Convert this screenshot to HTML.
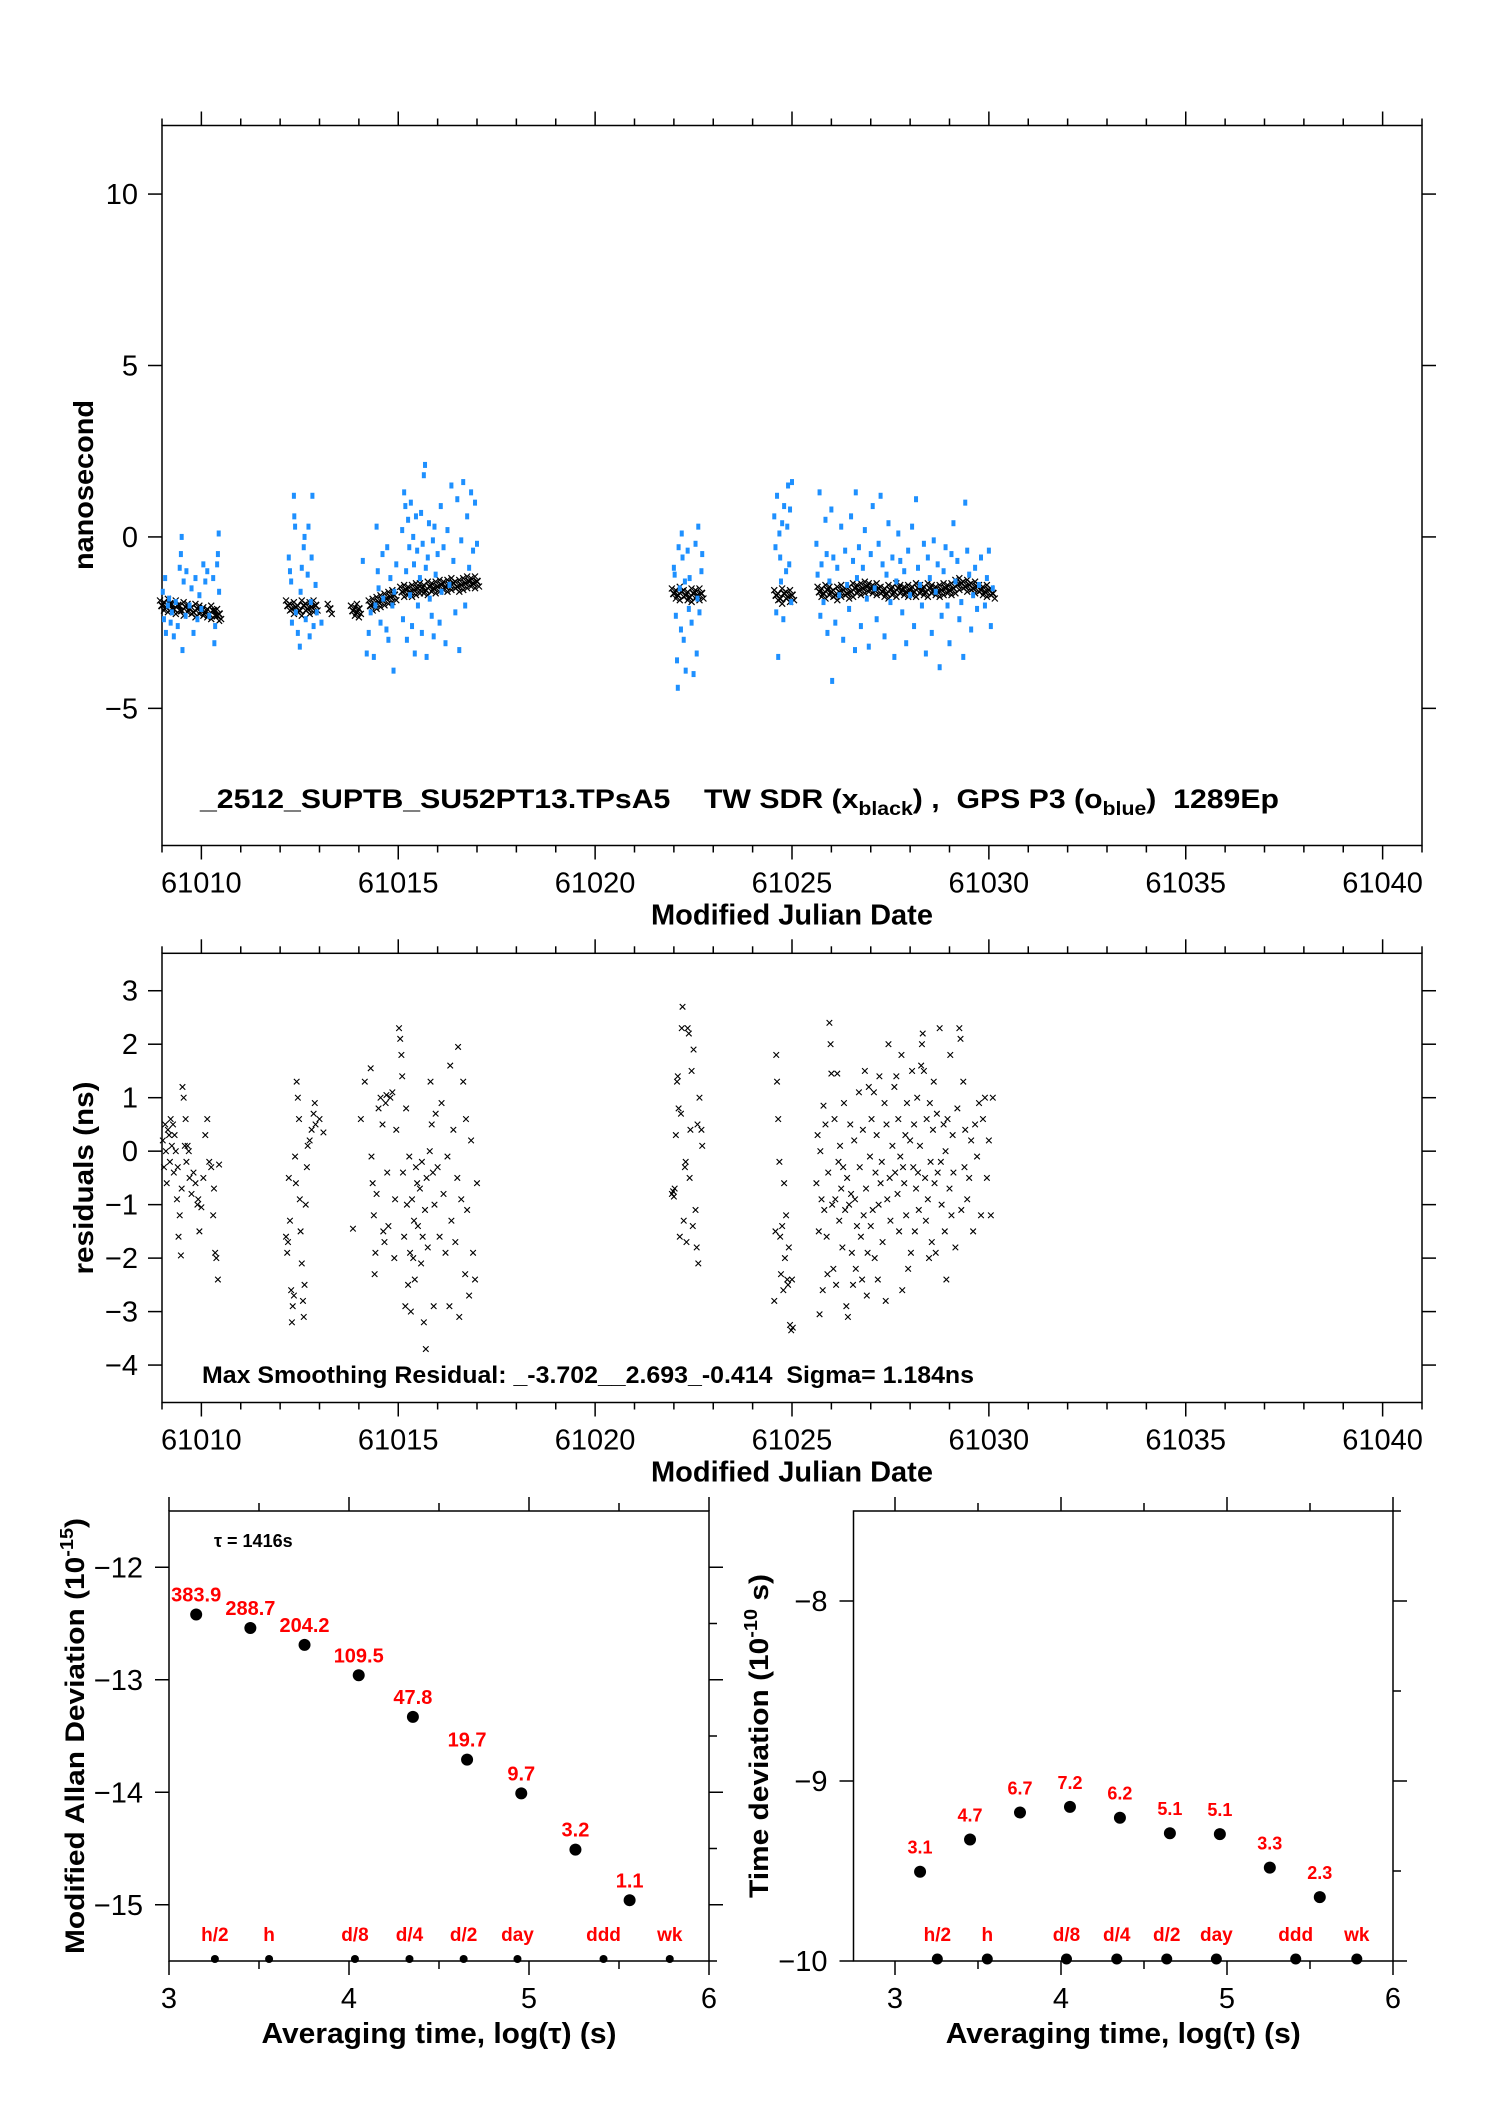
<!DOCTYPE html>
<html><head><meta charset="utf-8"><style>
html,body{margin:0;padding:0;background:#fff;}
svg{display:block;font-family:"Liberation Sans",Arial,sans-serif;}
</style></head><body>
<svg id="fig" width="1488" height="2105" viewBox="0 0 1488 2105" xmlns="http://www.w3.org/2000/svg">
<rect x="0" y="0" width="1488" height="2105" fill="#fff"/>
<g id="root"></g>
</svg>
<script>
// ---- Top plot data ----
const twSdrPoints = [
[61009.0,-2.0],[61009.1,-2.05],[61009.2,-1.95],[61009.3,-2.1],[61009.4,-2.0],[61009.5,-2.15],[61009.6,-2.05],[61009.7,-2.1],[61009.8,-2.2],[61009.9,-2.1],[61010.0,-2.15],[61010.1,-2.2],[61010.2,-2.25],[61010.3,-2.15],[61010.4,-2.3],[61010.45,-2.25],
[61012.2,-2.0],[61012.3,-2.1],[61012.4,-2.05],[61012.5,-2.15],[61012.6,-2.0],[61012.7,-2.1],[61012.8,-2.05],[61012.9,-2.0],
[61013.26,-2.1],[61013.85,-2.15],[61013.95,-2.2],[61014.0,-2.1],
[61014.3,-2.0],[61014.4,-1.95],[61014.5,-1.9],[61014.6,-1.85],[61014.7,-1.8],[61014.8,-1.75],[61014.9,-1.7],
[61015.1,-1.6],[61015.2,-1.55],[61015.3,-1.6],[61015.4,-1.55],[61015.5,-1.5],[61015.6,-1.5],[61015.7,-1.55],[61015.8,-1.45],[61015.9,-1.5],[61016.0,-1.45],[61016.1,-1.4],[61016.2,-1.45],[61016.3,-1.4],[61016.4,-1.35],[61016.5,-1.45],[61016.6,-1.4],[61016.7,-1.35],[61016.8,-1.3],[61016.9,-1.35],[61017.0,-1.3],
[61022.0,-1.65],[61022.1,-1.7],[61022.2,-1.6],[61022.3,-1.7],[61022.4,-1.75],[61022.5,-1.65],[61022.6,-1.7],[61022.7,-1.65],
[61024.6,-1.7],[61024.7,-1.8],[61024.8,-1.65],[61024.9,-1.75],[61025.0,-1.7],
[61025.7,-1.6],[61025.8,-1.65],[61025.9,-1.55],[61026.0,-1.6],[61026.1,-1.7],[61026.2,-1.6],[61026.3,-1.55],[61026.4,-1.65],[61026.5,-1.6],[61026.6,-1.5],[61026.7,-1.55],[61026.8,-1.5],[61026.9,-1.45],[61027.0,-1.5],[61027.1,-1.55],[61027.2,-1.5],[61027.3,-1.6],[61027.4,-1.65],[61027.5,-1.55],[61027.6,-1.6],[61027.7,-1.5],[61027.8,-1.55],[61027.9,-1.6],[61028.0,-1.55],[61028.1,-1.6],[61028.2,-1.5],[61028.3,-1.55],[61028.4,-1.6],[61028.5,-1.5],[61028.6,-1.55],[61028.7,-1.6],[61028.8,-1.55],[61028.9,-1.5],[61029.0,-1.55],[61029.1,-1.5],[61029.2,-1.4],[61029.3,-1.35],[61029.4,-1.45],[61029.5,-1.4],[61029.6,-1.5],[61029.7,-1.45],[61029.8,-1.55],[61029.9,-1.6],[61030.0,-1.55],[61030.1,-1.65]
];
const gpsP3Points = [
[61009.02,-1.6],[61009.05,-2.4],[61009.08,-1.2],[61009.1,-2.8],[61009.15,-2.0],[61009.18,-1.8],[61009.22,-2.5],[61009.25,-2.2],[61009.3,-2.9],[61009.35,-1.9],[61009.4,-2.6],[61009.45,-0.9],[61009.48,-0.5],[61009.5,0.0],[61009.52,-3.3],[61009.55,-1.3],[61009.6,-2.3],[61009.62,-1.0],[61009.7,-2.0],[61009.75,-1.5],[61009.8,-2.8],[61009.85,-1.2],[61009.9,-2.4],[61009.95,-1.7],[61010.0,-2.1],[61010.05,-0.8],[61010.1,-1.3],[61010.15,-1.0],[61010.2,-2.3],[61010.3,-1.2],[61010.33,-3.1],[61010.35,-2.6],[61010.4,-0.8],[61010.42,-0.5],[61010.44,0.1],[61010.45,-1.6],
[61012.22,-0.6],[61012.25,-1.0],[61012.28,-1.3],[61012.3,-2.5],[61012.35,1.2],[61012.36,0.6],[61012.38,0.3],[61012.4,-2.2],[61012.45,-2.8],[61012.5,-3.2],[61012.52,-1.6],[61012.55,-0.9],[61012.6,-0.3],[61012.62,0.0],[61012.65,-2.4],[61012.7,-1.1],[61012.72,0.3],[61012.75,-2.9],[61012.78,-1.9],[61012.8,-0.6],[61012.82,1.2],[61012.85,-2.6],[61012.9,-1.4],[61012.93,-2.2],[61013.05,-2.5],
[61014.1,-0.7],[61014.2,-3.4],[61014.25,-2.8],[61014.3,-2.2],[61014.38,-3.5],[61014.42,-2.0],[61014.45,0.3],[61014.48,-1.0],[61014.5,-1.5],[61014.55,-2.5],[61014.6,-0.5],[61014.62,-1.8],[61014.7,-2.7],[61014.72,-0.3],[61014.75,-3.0],[61014.8,-1.2],[61014.85,-2.0],[61014.88,-3.9],[61014.9,-1.6],[61014.95,-0.8],
[61015.1,0.2],[61015.12,-2.4],[61015.15,1.3],[61015.18,0.9],[61015.2,-1.0],[61015.22,-3.0],[61015.25,0.5],[61015.28,-0.3],[61015.3,-1.7],[61015.32,1.0],[61015.35,-2.6],[61015.38,0.0],[61015.4,-0.8],[61015.42,-3.4],[61015.45,0.6],[61015.48,-0.4],[61015.5,-2.0],[61015.55,-1.2],[61015.58,0.7],[61015.6,-2.8],[61015.62,-0.2],[61015.65,1.8],[61015.68,2.1],[61015.7,-0.9],[61015.72,-3.5],[61015.75,-0.6],[61015.78,0.4],[61015.8,-1.8],[61015.85,-2.3],[61015.88,-0.1],[61015.9,-2.9],[61015.92,0.3],[61015.95,-1.1],[61016.0,-0.5],[61016.05,-2.5],[61016.08,0.9],[61016.1,-1.6],[61016.15,-0.3],[61016.2,-3.1],[61016.25,0.2],[61016.3,-1.4],[61016.35,1.5],[61016.4,-0.7],[61016.45,-2.2],[61016.5,1.1],[61016.55,-3.3],[61016.6,-0.1],[61016.65,1.6],[61016.7,-2.0],[61016.75,0.6],[61016.8,-0.9],[61016.85,1.3],[61016.9,-0.4],[61016.95,1.0],[61017.0,-0.2],
[61022.0,-0.9],[61022.02,-1.1],[61022.05,-2.3],[61022.08,-3.6],[61022.1,-4.4],[61022.12,-0.3],[61022.15,-1.5],[61022.18,-2.7],[61022.2,0.1],[61022.22,-0.6],[61022.25,-3.0],[61022.28,-1.3],[61022.3,-3.9],[61022.35,-0.4],[61022.38,-2.1],[61022.4,-1.2],[61022.45,-2.5],[61022.5,-4.0],[61022.55,-0.2],[61022.58,-3.4],[61022.6,-1.8],[61022.62,0.3],[61022.65,-2.2],[61022.7,-1.0],[61022.72,-0.5],
[61024.55,0.6],[61024.58,-0.3],[61024.6,-2.2],[61024.62,1.2],[61024.65,-3.5],[61024.68,0.1],[61024.7,-0.6],[61024.72,-1.3],[61024.75,0.4],[61024.78,-2.4],[61024.8,0.9],[61024.85,-1.0],[61024.88,0.3],[61024.9,1.5],[61024.93,-0.8],[61024.95,0.8],[61024.98,-1.9],[61025.0,1.6],
[61025.62,-0.2],[61025.65,-1.1],[61025.7,1.3],[61025.72,-2.3],[61025.75,-0.8],[61025.8,-1.9],[61025.85,0.5],[61025.88,-0.5],[61025.9,-2.8],[61025.95,-1.3],[61026.0,0.8],[61026.02,-4.2],[61026.05,-0.6],[61026.1,-2.5],[61026.15,-0.9],[61026.2,-1.7],[61026.25,0.3],[61026.3,-3.0],[61026.35,-0.4],[61026.4,-1.4],[61026.45,-2.1],[61026.5,0.6],[61026.55,-0.7],[61026.6,-3.3],[61026.62,1.3],[61026.65,-1.2],[61026.7,-0.3],[61026.75,-2.6],[61026.8,-0.9],[61026.85,0.2],[61026.9,-1.8],[61026.95,-3.2],[61027.0,-0.5],[61027.05,0.9],[61027.1,-1.5],[61027.15,-2.4],[61027.2,-0.2],[61027.25,1.2],[61027.3,-0.8],[61027.35,-2.9],[61027.4,-1.1],[61027.45,0.4],[61027.5,-1.9],[61027.55,-0.6],[61027.6,-3.5],[61027.65,-1.3],[61027.7,0.1],[61027.75,-0.7],[61027.8,-2.2],[61027.85,-1.0],[61027.9,-3.1],[61027.95,-0.4],[61028.0,-1.7],[61028.05,0.3],[61028.1,-2.6],[61028.15,1.1],[61028.2,-0.9],[61028.25,-1.4],[61028.3,-2.0],[61028.35,-0.2],[61028.4,-3.4],[61028.45,-0.6],[61028.5,-1.2],[61028.55,-2.8],[61028.6,-0.1],[61028.65,-1.6],[61028.7,-0.8],[61028.75,-3.8],[61028.8,-2.3],[61028.85,-1.0],[61028.9,-0.3],[61028.95,-2.0],[61029.0,-3.1],[61029.05,-0.5],[61029.1,0.4],[61029.15,-1.3],[61029.2,-0.7],[61029.25,-2.4],[61029.3,-1.9],[61029.35,-3.5],[61029.4,1.0],[61029.45,-0.4],[61029.5,-1.1],[61029.55,-2.7],[61029.6,-1.7],[61029.65,-0.9],[61029.7,-2.1],[61029.75,-1.4],[61029.8,-0.6],[61029.9,-2.0],[61029.95,-1.2],[61030.0,-0.4],[61030.05,-2.6],[61030.1,-1.5]
];
// ---- Residual data ----
const residualPoints = [
[61009.02,0.2],[61009.05,-0.3],[61009.08,0.5],[61009.1,0.0],[61009.12,-0.6],[61009.15,0.4],[61009.18,0.3],[61009.2,-0.2],[61009.22,0.6],[61009.25,0.1],[61009.28,0.5],[61009.3,-0.4],[61009.32,0.3],[61009.35,0.0],[61009.38,-0.9],[61009.4,-0.3],[61009.42,-1.6],[61009.45,-1.2],[61009.48,-1.95],[61009.5,-0.7],[61009.52,1.2],[61009.55,1.0],[61009.58,0.1],[61009.6,0.6],[61009.62,-0.2],[61009.65,0.1],[61009.68,0.0],[61009.7,-0.5],[61009.75,-0.8],[61009.8,-0.4],[61009.85,-0.6],[61009.9,-1.0],[61009.92,-0.9],[61009.95,-1.5],[61010.0,-1.05],[61010.05,-0.5],[61010.1,0.3],[61010.15,0.6],[61010.2,-0.2],[61010.25,-0.3],[61010.3,-1.2],[61010.32,-0.7],[61010.35,-1.9],[61010.38,-2.0],[61010.42,-2.4],[61010.45,-0.25],
[61012.15,-1.6],[61012.18,-1.9],[61012.2,-1.7],[61012.22,-0.5],[61012.25,-1.3],[61012.28,-2.6],[61012.3,-3.2],[61012.32,-2.9],[61012.35,-2.7],[61012.38,-0.1],[61012.4,-0.6],[61012.42,1.3],[61012.45,1.0],[61012.48,0.6],[61012.5,-0.9],[61012.52,-1.5],[61012.55,-2.1],[61012.58,-2.8],[61012.6,-3.1],[61012.62,-2.5],[61012.65,-1.0],[61012.68,-0.3],[61012.7,0.1],[61012.75,0.2],[61012.8,0.4],[61012.85,0.7],[61012.88,0.9],[61012.9,0.5],[61013.0,0.6],[61013.1,0.35],
[61013.85,-1.45],[61014.05,0.6],[61014.15,1.3],[61014.3,1.55],[61014.32,-0.1],[61014.35,-0.6],[61014.38,-1.2],[61014.4,-2.3],[61014.42,-1.9],[61014.45,-0.8],[61014.5,0.8],[61014.55,1.0],[61014.6,0.5],[61014.62,-1.5],[61014.65,-1.7],[61014.68,0.9],[61014.7,1.05],[61014.72,-0.4],[61014.75,-1.4],[61014.8,1.0],[61014.85,1.1],[61014.9,-2.0],[61014.92,-0.9],[61014.95,0.4],
[61015.02,2.3],[61015.05,2.1],[61015.08,1.8],[61015.1,1.4],[61015.12,-0.4],[61015.15,-1.6],[61015.18,-2.9],[61015.2,0.8],[61015.22,-1.0],[61015.25,-2.5],[61015.28,-0.1],[61015.3,-1.9],[61015.32,-3.0],[61015.35,-0.9],[61015.38,-2.0],[61015.4,-1.3],[61015.42,-2.4],[61015.45,-0.3],[61015.48,-0.6],[61015.5,-1.4],[61015.55,-0.7],[61015.58,-2.1],[61015.6,-0.2],[61015.62,-1.6],[61015.65,-3.2],[61015.68,-1.1],[61015.7,-3.7],[61015.72,-0.5],[61015.75,-1.8],[61015.8,0.0],[61015.82,1.3],[61015.85,0.5],[61015.88,-0.4],[61015.9,-2.9],[61015.92,-1.0],[61015.95,0.7],[61016.0,-0.3],[61016.05,-1.6],[61016.1,0.9],[61016.15,-0.8],[61016.2,-1.9],[61016.25,-0.1],[61016.3,-2.9],[61016.32,1.6],[61016.35,-1.3],[61016.4,0.4],[61016.45,-1.7],[61016.5,-0.5],[61016.52,1.95],[61016.55,-3.1],[61016.6,-0.9],[61016.65,1.3],[61016.7,-2.3],[61016.72,0.6],[61016.75,-1.1],[61016.8,-2.7],[61016.85,0.2],[61016.9,-1.9],[61016.95,-2.4],[61017.0,-0.6],
[61021.95,-0.8],[61021.98,-0.75],[61022.0,-0.85],[61022.02,-0.7],[61022.05,0.3],[61022.08,1.3],[61022.1,1.4],[61022.12,0.8],[61022.15,-1.6],[61022.18,0.7],[61022.2,2.3],[61022.22,2.7],[61022.25,-1.3],[61022.28,-0.3],[61022.3,-0.2],[61022.32,-1.7],[61022.35,2.3],[61022.38,2.2],[61022.4,-0.5],[61022.42,0.4],[61022.45,1.5],[61022.48,-1.4],[61022.5,1.9],[61022.55,-1.1],[61022.58,-1.8],[61022.6,0.5],[61022.62,-2.1],[61022.65,1.0],[61022.7,0.4],[61022.72,0.1],
[61024.55,-2.8],[61024.58,-1.5],[61024.6,1.8],[61024.62,1.3],[61024.65,0.6],[61024.68,-0.2],[61024.7,-1.6],[61024.72,-2.3],[61024.75,-1.4],[61024.78,-2.6],[61024.8,-0.6],[61024.82,-2.0],[61024.85,-1.2],[61024.88,-2.4],[61024.9,-2.5],[61024.92,-1.8],[61024.95,-3.25],[61024.98,-3.35],[61025.0,-2.4],[61025.02,-3.3],
[61025.62,-0.6],[61025.65,0.3],[61025.68,-1.5],[61025.7,-3.05],[61025.72,0.0],[61025.75,-0.9],[61025.78,-2.6],[61025.8,0.85],[61025.82,-1.1],[61025.85,0.5],[61025.88,-1.6],[61025.9,-2.3],[61025.92,-0.4],[61025.95,2.4],[61025.98,2.0],[61026.0,1.45],[61026.02,-1.0],[61026.05,-2.2],[61026.08,0.6],[61026.1,-0.9],[61026.12,-2.5],[61026.15,1.45],[61026.18,-0.2],[61026.2,-1.3],[61026.22,0.1],[61026.25,-0.7],[61026.28,-1.8],[61026.3,-0.3],[61026.32,0.9],[61026.35,-1.1],[61026.38,-2.9],[61026.4,-0.5],[61026.42,-3.1],[61026.45,-1.0],[61026.48,0.5],[61026.5,-0.8],[61026.52,-1.9],[61026.55,-2.5],[61026.58,0.2],[61026.6,-0.9],[61026.62,-2.2],[61026.65,-1.4],[61026.7,1.1],[61026.72,-0.3],[61026.75,-1.6],[61026.78,-2.4],[61026.8,0.4],[61026.82,-1.2],[61026.85,1.5],[61026.88,-0.7],[61026.9,-2.7],[61026.92,-1.9],[61026.95,1.2],[61026.98,-0.1],[61027.0,-1.4],[61027.02,0.6],[61027.05,-1.1],[61027.08,1.1],[61027.1,-2.0],[61027.12,-0.4],[61027.15,0.3],[61027.18,-2.4],[61027.2,-1.0],[61027.22,1.4],[61027.25,-0.6],[61027.28,-0.2],[61027.3,-1.7],[61027.35,0.9],[61027.38,-2.8],[61027.4,0.5],[61027.42,-0.9],[61027.45,2.0],[61027.48,-0.5],[61027.5,-1.3],[61027.55,0.1],[61027.6,1.2],[61027.62,-0.4],[61027.65,1.4],[61027.68,-0.8],[61027.7,0.6],[61027.72,-1.5],[61027.75,-0.1],[61027.78,1.8],[61027.8,-2.6],[61027.82,-0.3],[61027.85,-0.6],[61027.88,0.3],[61027.9,-1.2],[61027.92,0.9],[61027.95,-2.2],[61028.0,0.2],[61028.02,-1.9],[61028.05,1.5],[61028.08,-0.3],[61028.1,0.5],[61028.12,-1.5],[61028.15,-0.7],[61028.18,1.0],[61028.2,-0.4],[61028.22,-1.1],[61028.25,0.1],[61028.28,1.6],[61028.3,2.0],[61028.32,2.2],[61028.35,1.5],[61028.38,-0.5],[61028.4,-1.3],[61028.42,0.6],[61028.45,-0.9],[61028.48,-2.0],[61028.5,0.9],[61028.52,-0.2],[61028.55,-1.7],[61028.58,0.4],[61028.6,1.3],[61028.62,-0.6],[61028.65,-1.9],[61028.68,0.7],[61028.7,-0.4],[61028.75,2.3],[61028.78,-0.2],[61028.8,-1.0],[61028.85,0.5],[61028.88,-1.5],[61028.9,0.0],[61028.92,-2.4],[61028.95,0.6],[61029.0,-0.7],[61029.02,1.8],[61029.05,-1.2],[61029.08,0.3],[61029.1,-0.4],[61029.15,-1.8],[61029.2,0.8],[61029.25,2.3],[61029.28,2.1],[61029.3,-1.1],[61029.35,1.3],[61029.38,-0.3],[61029.4,0.4],[61029.45,-0.9],[61029.5,-0.5],[61029.55,0.2],[61029.6,-1.5],[61029.65,0.5],[61029.7,-0.1],[61029.75,0.9],[61029.8,-1.2],[61029.85,0.6],[61029.9,1.0],[61029.95,-0.5],[61030.0,0.2],[61030.05,-1.2],[61030.1,1.0]
];
// ---- Stability data ----
const logTau = [3.151,3.452,3.753,4.054,4.355,4.656,4.957,5.258,5.559];
const modAdev = [-12.42,-12.54,-12.69,-12.96,-13.33,-13.71,-14.01,-14.51,-14.96];
const modAdevLabels = ["383.9","288.7","204.2","109.5","47.8","19.7","9.7","3.2","1.1"];
const tdev = [-9.504,-9.325,-9.175,-9.144,-9.204,-9.29,-9.295,-9.481,-9.645];
const tdevLabels = ["3.1","4.7","6.7","7.2","6.2","5.1","5.1","3.3","2.3"];
const markerNames = ["h/2","h","d/8","d/4","d/2","day","ddd","wk"];
const markerLogTau = [3.255,3.556,4.033,4.336,4.637,4.936,5.414,5.782];
const mjdTicks = [61010,61015,61020,61025,61030,61035,61040];
const topYTicks = [-5,0,5,10];
const resYTicks = [-4,-3,-2,-1,0,1,2,3];
const adevYTicks = [-15,-14,-13,-12];
const tdevYTicks = [-10,-9,-8];
const logTicks = [3,4,5,6];

const NS = "http://www.w3.org/2000/svg";
const root = document.getElementById('root');
function mk(tag, attrs, name, parent) {
  const el = document.createElementNS(NS, tag);
  for (const k in attrs) el.setAttribute(k, attrs[k]);
  
  
  (parent || root).appendChild(el);
  return el;
}
function txt(x, y, s, size, weight, anchor, name, fill, parent, extra) {
  const a = {x:x, y:y, 'font-size':size, 'font-weight':weight, 'text-anchor':anchor, fill:fill||'#000'};
  if (extra) for (const k in extra) a[k] = extra[k];
  const t = mk('text', a, name, parent);
  t.textContent = s;
  return t;
}
function line(x1,y1,x2,y2,name,w){ return mk('line',{x1:x1,y1:y1,x2:x2,y2:y2,stroke:'#000','stroke-width':w||1.5},name); }

function makeAxes(b, x0, x1, y0, y1) {
  return {
    X: v => b.l + (v - x0) / (x1 - x0) * (b.r - b.l),
    Y: v => b.b - (v - y0) / (y1 - y0) * (b.b - b.t)
  };
}
function frame(b, name) {
  mk('rect',{x:b.l,y:b.t,width:b.r-b.l,height:b.b-b.t,fill:'none',stroke:'#000','stroke-width':1.5},name);
}

// ===== Top & middle MJD plots =====
function mjdPlot(b, y0, y1, yticks, name) {
  frame(b, name + '-frame');
  const ax = makeAxes(b, 61009, 61041, y0, y1);
  for (let d = 61009; d <= 61041; d++) {
    const major = d % 5 === 0;
    const len = major ? 14 : 7;
    const x = ax.X(d);
    line(x, b.t, x, b.t - len, name + '-top-tick');
    line(x, b.b, x, b.b + len, name + '-bottom-tick');
  }
  mjdTicks.forEach(t => {
    txt(ax.X(t), b.b + 47, String(t), 29, 'normal', 'middle', name + '-x-tick-label');
  });
  yticks.forEach(t => {
    const y = ax.Y(t);
    line(b.l - 14, y, b.l, y, name + '-y-tick');
    line(b.r, y, b.r + 14, y, name + '-y-tick-right');
    txt(b.l - 24, y + 10, t < 0 ? '\u2212' + Math.abs(t) : String(t), 29, 'normal', 'end', name + '-y-tick-label');
  });
  txt((b.l + b.r) / 2, b.b + 79, 'Modified Julian Date', 29, 'bold', 'middle', name + '-x-axis-title');
  return ax;
}
function xMark(x, y, s, name, w) {
  mk('path',{d:`M${x-s},${y-s}L${x+s},${y+s}M${x-s},${y+s}L${x+s},${y-s}`,stroke:'#000','stroke-width':w||1,fill:'none'},name);
}

const topB = {l:162, r:1422, t:125.5, b:845.5};
const topAx = mjdPlot(topB, -9, 12, topYTicks, 'time-series');
twSdrPoints.forEach(p => {
  const x = topAx.X(p[0]), y = topAx.Y(p[1]);
  xMark(x, y, 3.5, 'tw-sdr-point', 1.6);
  xMark(x + 2, y + 5, 3, 'tw-sdr-point', 1.2);
  xMark(x - 2, y - 5, 3, 'tw-sdr-point', 1.2);
});
gpsP3Points.forEach(p => {
  mk('rect',{x:topAx.X(p[0])-2,y:topAx.Y(p[1])-3,width:4,height:6,fill:'#1e90ff'},'gps-p3-point');
});
const ann = txt(200, 808, '', 27, 'bold', 'start', 'series-annotation');
ann.setAttribute('textLength', '1079');
ann.setAttribute('lengthAdjust', 'spacingAndGlyphs');
ann.innerHTML = '_2512_SUPTB_SU52PT13.TPsA5\u00a0\u00a0\u00a0\u00a0TW SDR (x<tspan font-size="19" dy="7">black</tspan><tspan dy="-7">) ,\u00a0\u00a0GPS P3 (o</tspan><tspan font-size="19" dy="7">blue</tspan><tspan dy="-7">)\u00a0\u00a01289Ep</tspan>';
txt(83, 485, 'nanosecond', 28, 'bold', 'middle', 'y-axis-title-nanosecond', '#000', null, {transform:'rotate(-90 83 485)', dy:'10', textLength:'170', lengthAdjust:'spacingAndGlyphs'});

const midB = {l:162, r:1422, t:953.3, b:1402.5};
const midAx = mjdPlot(midB, -4.7, 3.7, resYTicks, 'residuals');
residualPoints.forEach(p => {
  xMark(midAx.X(p[0]), midAx.Y(p[1]), 2.8, 'residual-point', 1.1);
});
txt(202, 1383, 'Max Smoothing Residual: _-3.702__2.693_-0.414\u00a0\u00a0Sigma= 1.184ns', 24, 'bold', 'start', 'residual-annotation', '#000', null, {textLength:'772', lengthAdjust:'spacingAndGlyphs'});
txt(83, 1178, 'residuals (ns)', 28, 'bold', 'middle', 'y-axis-title-residuals', '#000', null, {transform:'rotate(-90 83 1178)', dy:'10', textLength:'193', lengthAdjust:'spacingAndGlyphs'});

// ===== Stability plots =====
function stabPlot(b, x0, y0, y1, yticks, minorY, name) {
  frame(b, name + '-frame');
  const ax = makeAxes(b, x0, 6, y0, y1);
  [3,3.5,4,4.5,5,5.5,6].forEach(t => {
    const len = Number.isInteger(t) ? 14 : 8;
    const x = ax.X(t);
    line(x, b.t, x, b.t - len, name + '-top-tick');
    line(x, b.b, x, b.b + len, name + '-bottom-tick');
  });
  logTicks.forEach(t => txt(ax.X(t), b.b + 47, String(t), 29, 'normal', 'middle', name + '-x-tick-label'));
  yticks.forEach(t => {
    const y = ax.Y(t);
    line(b.l - 14, y, b.l, y, name + '-y-tick');
    line(b.r, y, b.r + 14, y, name + '-y-tick-right');
    txt(b.l - 26, y + 10, '\u2212' + Math.abs(t), 29, 'normal', 'end', name + '-y-tick-label');
  });
  minorY.forEach(t => {
    const y = ax.Y(t);
    line(b.r, y, b.r + 8, y, name + '-y-minor-tick');
  });
  const tt = txt((b.l + b.r) / 2, b.b + 82, 'Averaging time, log(\u03c4) (s)', 29, 'bold', 'middle', name + '-x-axis-title');
  tt.setAttribute('textLength', '355');
  tt.setAttribute('lengthAdjust', 'spacingAndGlyphs');
  return ax;
}
function stabPoints(ax, b, vals, labels, dyLab, lsize, name, mr) {
  logTau.forEach((lt, i) => {
    const x = ax.X(lt), y = ax.Y(vals[i]);
    mk('circle',{cx:x, cy:y, r:6, fill:'#000'}, name + '-point');
    txt(x, y - dyLab, labels[i], lsize, 'bold', 'middle', name + '-value-label', '#ff0000');
  });
  markerLogTau.forEach((lt, i) => {
    const x = ax.X(lt);
    mk('circle',{cx:x, cy:b.b - 2, r:mr, fill:'#000'}, name + '-interval-marker');
    txt(x, b.b - 20, markerNames[i], 19, 'bold', 'middle', name + '-interval-label', '#ff0000');
  });
}

const adB = {l:169, r:709, t:1511, b:1961};
const adAx = stabPlot(adB, 3, -15.5, -11.5, adevYTicks, [-15.5,-14.5,-13.5,-12.5], 'mod-adev');
stabPoints(adAx, adB, modAdev, modAdevLabels, 13, 20, 'mod-adev', 4);
txt(214, 1547, '\u03c4 = 1416s', 18, 'bold', 'start', 'tau-annotation');
const adT = txt(74, 1736, '', 27, 'bold', 'middle', 'y-axis-title-mod-adev', '#000', null, {transform:'rotate(-90 74 1736)', dy:'10', textLength:'436', lengthAdjust:'spacingAndGlyphs'});
adT.innerHTML = 'Modified Allan Deviation (10<tspan font-size="18" dy="-11">-15</tspan><tspan dy="11">)</tspan>';

const tdB = {l:853.5, r:1393, t:1511, b:1961};
const tdAx = stabPlot(tdB, 2.75, -10, -7.5, tdevYTicks, [-9.5,-8.5,-7.5], 'tdev');
stabPoints(tdAx, tdB, tdev, tdevLabels, 18, 18, 'tdev', 5.5);
const tdT = txt(758, 1736, '', 27, 'bold', 'middle', 'y-axis-title-tdev', '#000', null, {transform:'rotate(-90 758 1736)', dy:'10', textLength:'324', lengthAdjust:'spacingAndGlyphs'});
tdT.innerHTML = 'Time deviation (10<tspan font-size="18" dy="-11">-10</tspan><tspan dy="11"> s)</tspan>';
</script>
</body></html>
